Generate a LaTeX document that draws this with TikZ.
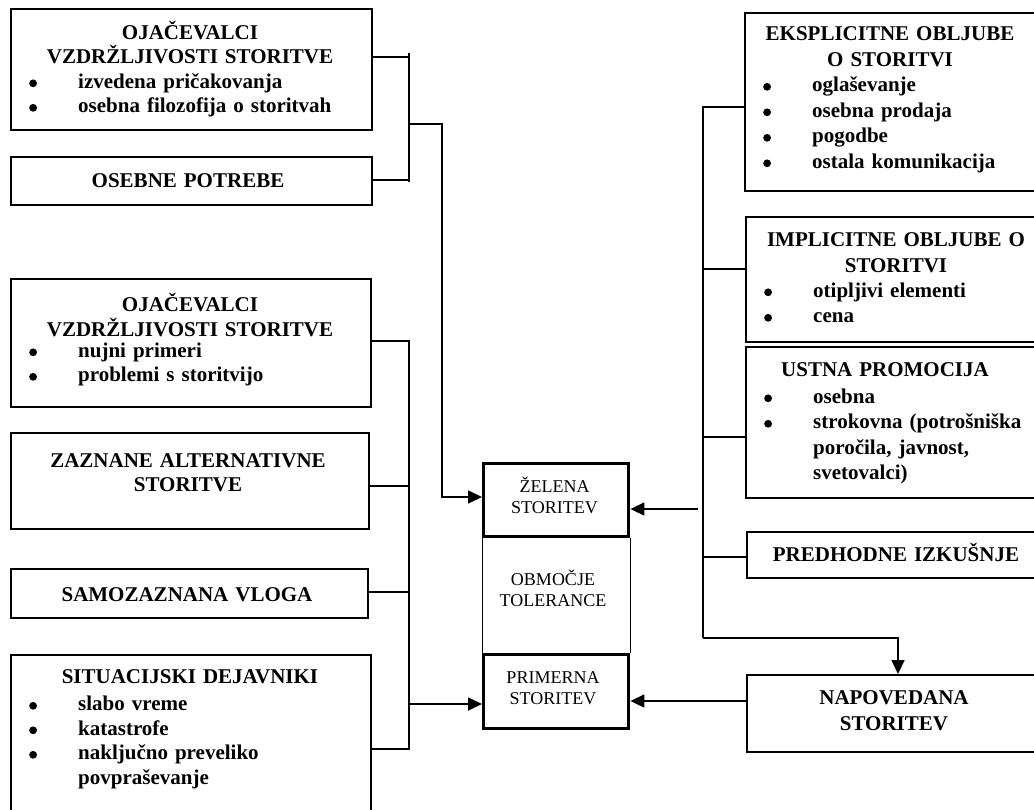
\documentclass[tikz,border=0pt]{standalone}
\usepackage{fontspec}
\setmainfont{Liberation Serif}
\usetikzlibrary{arrows.meta}

% bullet item and continuation line inside the bulleted lists
\newcommand\bdot{\raisebox{0.8pt}{\tikz\fill (0pt,0pt) circle (3.9pt);}}
\newcommand\bul[1]{\makebox[68pt][l]{\hspace*{19pt}\bdot}#1}
\newcommand\ind[1]{\hspace*{68pt}#1}

\begin{document}
\begin{tikzpicture}[x=1pt,y=-1pt,
  box/.style={draw, line width=1.5pt, inner sep=0pt, anchor=north west},
  cbox/.style={draw, line width=3.4pt, inner sep=0pt, anchor=north west,
               minimum width=145pt},
  conn/.style={line width=1.7pt},
  arr/.style={conn, -{Triangle[length=14pt,width=13pt]}},
  ttl/.style={font=\fontsize{21}{24.5}\selectfont\bfseries, text width=340pt,
              align=center, inner sep=0pt, anchor=base},
  ttr/.style={ttl, font=\fontsize{21}{25.5}\selectfont\bfseries},
  itl/.style={font=\fontsize{21}{24.5}\selectfont\bfseries, text width=360pt,
              align=left, inner sep=0pt, anchor=base west},
  itr/.style={itl, font=\fontsize{21}{25.5}\selectfont\bfseries, text width=290pt},
  ctxt/.style={font=\fontsize{18}{21.5}\selectfont, text width=140pt,
               align=center, inner sep=0pt, anchor=base}
]
\useasboundingbox (0,0) rectangle (1034,809);

% ---------- left column ----------
\node[box, minimum width=361pt, minimum height=121pt] (L1) at (10,8) {};
\node[box, minimum width=361pt, minimum height=48pt]  (L2) at (10,156) {};
\node[box, minimum width=360pt, minimum height=128pt] (L3) at (10,278) {};
\node[box, minimum width=358pt, minimum height=96pt]  (L4) at (10,432) {};
\node[box, minimum width=357pt, minimum height=49pt]  (L5) at (10,568) {};
\node[box, minimum width=360pt, minimum height=200pt] (L6) at (10,654) {};

\node[ttl] (L1t) at (190,39) {OJAČEVALCI\\VZDRŽLJIVOSTI STORITVE};
\node[itl] (L1i) at (10,88) {\bul{izvedena pričakovanja}\\\bul{osebna filozofija o storitvah}};
\node[ttl] (L2t) at (188,187) {OSEBNE POTREBE};
\node[ttl] (L3t) at (190,311.5) {OJAČEVALCI\\VZDRŽLJIVOSTI STORITVE};
\node[itl] (L3i) at (10,357) {\bul{nujni primeri}\\\bul{problemi s storitvijo}};
\node[ttl] (L4t) at (188,467) {ZAZNANE ALTERNATIVNE\\STORITVE};
\node[ttl] (L5t) at (187,601) {SAMOZAZNANA VLOGA};
\node[ttl] (L6t) at (190,683) {SITUACIJSKI DEJAVNIKI};
\node[itl] (L6i) at (10,710.5) {\bul{slabo vreme}\\\bul{katastrofe}\\\bul{naključno preveliko}\\\ind{povpraševanje}};

% ---------- centre column ----------
\node[cbox, minimum height=73pt] (C1) at (482,462) {};
\node[cbox, minimum height=74pt] (C3) at (482,653) {};
\node[ctxt] (C1t) at (554.5,492) {ŽELENA\\STORITEV};
\node[ctxt] (C2t) at (553,585) {OBMOČJE\\TOLERANCE};
\node[ctxt] (C3t) at (553,683) {PRIMERNA\\STORITEV};
\draw[line width=1pt] (C1.south west) -- (C3.north west);
\draw[line width=1pt] (C1.south east) -- (C3.north east);

% ---------- right column ----------
\node[box, minimum width=300pt, minimum height=178pt] (R1) at (744,12) {};
\node[box, minimum width=300pt, minimum height=125pt] (R2) at (745,216) {};
\node[box, minimum width=300pt, minimum height=151pt] (R3) at (745,346) {};
\node[box, minimum width=300pt, minimum height=46pt]  (R4) at (746,531) {};
\node[box, minimum width=300pt, minimum height=77pt]  (R5) at (746,674) {};

\node[ttr] (R1t) at (890,40.5) {EKSPLICITNE OBLJUBE\\O STORITVI};
\node[itr] (R1i) at (744,91.5) {\bul{oglaševanje}\\\bul{osebna prodaja}\\\bul{pogodbe}\\\bul{ostala komunikacija}};
\node[ttr] (R2t) at (896,246.5) {IMPLICITNE OBLJUBE O\\STORITVI};
\node[itr] (R2i) at (745,297) {\bul{otipljivi elementi}\\\bul{cena}};
\node[ttr] (R3t) at (885,376.5) {USTNA PROMOCIJA};
\node[itr] (R3i) at (745,403) {\bul{osebna}\\\bul{strokovna (potrošniška}\\\ind{poročila, javnost,}\\\ind{svetovalci)}};
\node[ttr] (R4t) at (896,561.5) {PREDHODNE IZKUŠNJE};
\node[ttr, font=\fontsize{21}{26}\selectfont\bfseries] (R5t) at (894,704) {NAPOVEDANA\\STORITEV};

% ---------- junction points ----------
\coordinate (ja)   at (409,57);
\coordinate (jb)   at (409,180);
\coordinate (jtop) at (409,53);
\coordinate (jbot) at (409,182);
\coordinate (jm)   at (409,124);
\coordinate (jk)   at (442,124);
\coordinate (jz)   at (442,497);

\coordinate (lv1) at (409,341);
\coordinate (lv2) at (409,486);
\coordinate (lv3) at (409,592);
\coordinate (lv4) at (409,749);
\coordinate (lv5) at (409,704);

\coordinate (rv0) at (703,107);
\coordinate (rv1) at (703,269);
\coordinate (rv2) at (703,437);
\coordinate (rv3) at (703,557);
\coordinate (rv4) at (703,638);
\coordinate (rz)  at (698,509);
\coordinate (rn)  at (898,638);
\coordinate (rp)  at (746,701);

% ---------- left connectors ----------
\draw[conn] (L1.east |- ja) -- (ja);
\draw[conn] (L2.east |- jb) -- (jb);
\draw[conn] (jtop) -- (jbot);
\draw[arr] (jm) -- (jk) -- (jz) -- (C1.west |- jz);

\draw[conn] (L3.east |- lv1) -- (lv1) -- (lv4) -- (L6.east |- lv4);
\draw[conn] (L4.east |- lv2) -- (lv2);
\draw[conn] (L5.east |- lv3) -- (lv3);
\draw[arr] (lv5) -- (C3.west |- lv5);

% ---------- right connectors ----------
\draw[conn] (R1.west |- rv0) -- (rv0) -- (rv4);
\draw[conn] (R2.west |- rv1) -- (rv1);
\draw[conn] (R3.west |- rv2) -- (rv2);
\draw[conn] (R4.west |- rv3) -- (rv3);
\draw[arr] (rv4) -- (rn) -- (rn |- R5.north);
\draw[arr] (rz) -- (C1.east |- rz);
\draw[arr] (rp) -- (C3.east |- rp);
\end{tikzpicture}
\end{document}
